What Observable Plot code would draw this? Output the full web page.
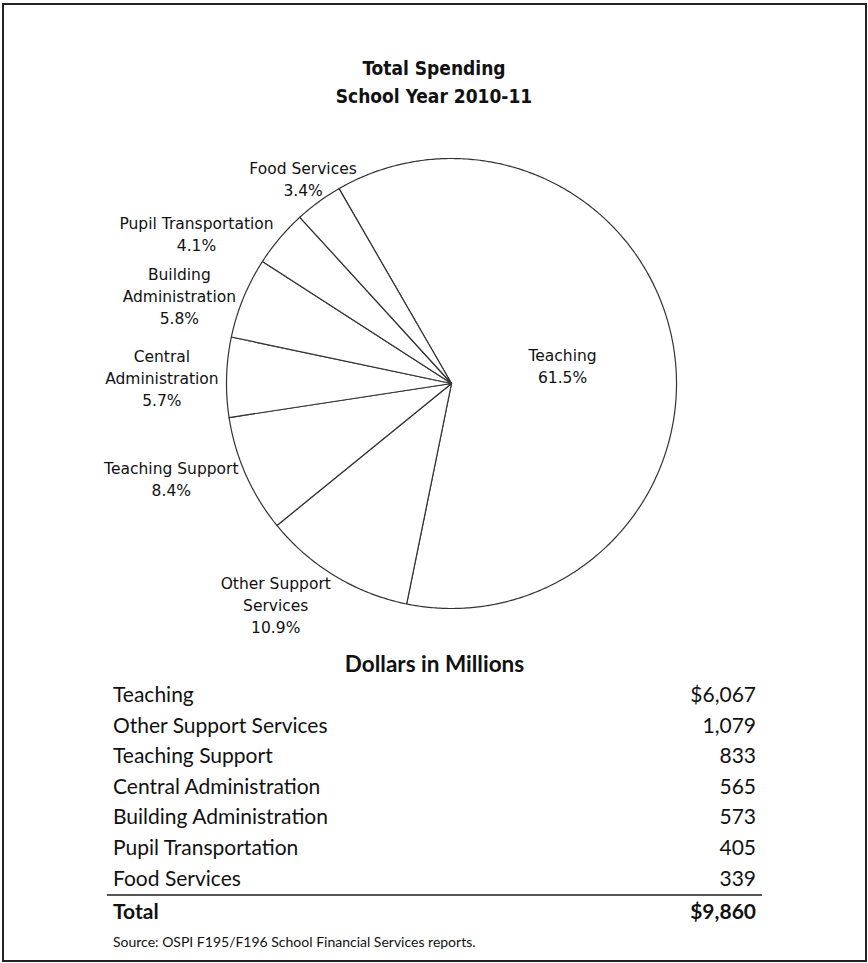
<!DOCTYPE html>
<html>
<head>
<meta charset="utf-8">
<script src="https://cdn.jsdelivr.net/npm/d3@7"></script>
<script src="https://cdn.jsdelivr.net/npm/@observablehq/plot@0.6"></script>
<style>
  html, body { margin: 0; padding: 0; background: #fff; }
  #page { position: relative; width: 868px; height: 963px; background: #fff; overflow: hidden; }
  #frame { position: absolute; left: 2px; top: 3px; width: 865px; height: 959px; border: 2px solid #222; box-sizing: border-box; }
  #title { position: absolute; left: 0; top: 54px; width: 868px; text-align: center;
           font-family: "DejaVu Sans Condensed", "DejaVu Sans", sans-serif; font-stretch: condensed;
           font-weight: bold; font-size: 19px; line-height: 28px; color: #111; }
  #chart { position: absolute; left: 0; top: 120px; z-index: 2; }
  #table { position: absolute; left: 107px; top: 649px; width: 655px; z-index: 1;
           font-family: Lato, "Open Sans", sans-serif; color: #111; }
  #table .head { text-align: center; font-weight: bold; font-size: 22.5px; height: 30px; line-height: 30px; }
  #table .row { display: flex; justify-content: space-between; padding: 0 6px; font-size: 21px; height: 30.6px; line-height: 30.6px; }
  #table .total { font-weight: bold; border-top: 2px solid #555; margin-top: 1px; }
  #table .source { font-size: 14px; padding: 0 6px; margin-top: 5px; line-height: 20px; }
  #chart svg { overflow: visible; }
</style>
</head>
<body>
<div id="page">
  <div id="frame"></div>
  <div id="title"></div>
  <div id="chart"></div>
  <div id="table"></div>
</div>
<script>
// ---- data ----
const categories = ["Teaching", "Other Support Services", "Teaching Support", "Central Administration", "Building Administration", "Pupil Transportation", "Food Services"];
const pieLabels = ["Teaching", "Other Support\nServices", "Teaching Support", "Central\nAdministration", "Building\nAdministration", "Pupil Transportation", "Food Services"];
const dollars = [6067, 1079, 833, 565, 573, 405, 339];
const dollarLabels = ["$6,067", "1,079", "833", "565", "573", "405", "339"];
const totalLabel = "$9,860";
const titleLines = ["Total Spending", "School Year 2010-11"];
const tableTitle = "Dollars in Millions";
const sourceText = "Source:  OSPI F195/F196 School Financial Services reports.";

// ---- title ----
document.getElementById("title").innerHTML = titleLines.join("<br>");

// ---- pie geometry (layout) ----
const W = 868, H = 525, CX = 451, CY = 263, R = 225;
const startAngle = -Math.PI / 6;
const pie = d3.pie().sort(null).value(d => d).startAngle(startAngle).endAngle(startAngle + 2 * Math.PI)(dollars);
const total = d3.sum(dollars);
const pct = d3.format(".1%");

const slicePts = [];
pie.forEach((p, i) => {
  const n = Math.max(4, Math.ceil((p.endAngle - p.startAngle) / 0.01));
  slicePts.push({k: i, x: 0, y: 0});
  for (let j = 0; j <= n; j++) {
    const a = p.startAngle + (p.endAngle - p.startAngle) * j / n;
    slicePts.push({k: i, x: Math.sin(a), y: Math.cos(a)});
  }
  slicePts.push({k: i, x: 0, y: 0});
});

// label placement: outside labels sit just beyond the rim, pushed away from the pie
const labelFamily = "'DejaVu Sans', sans-serif";
const labelSize = 15.5;
const lineH = 22;
const ctx = document.createElement("canvas").getContext("2d");
ctx.font = labelSize + "px " + labelFamily;
const gap = 8;
const clamp = v => Math.max(0, Math.min(1, v));
const labels = pie.map((p, i) => {
  const text = pieLabels[i] + "\n" + pct(dollars[i] / total);
  const lines = text.split("\n");
  const w = d3.max(lines, l => ctx.measureText(l).width);
  const h = lines.length * lineH;
  const a = (p.startAngle + p.endAngle) / 2;
  const s = Math.sin(a), c = Math.cos(a);
  let px, py;
  if (dollars[i] / total > 0.25) {
    px = s * R * 0.5; py = c * R * 0.5;
  } else {
    let fx, fy;
    if (c > 0) { fx = clamp((Math.abs(s) - 0.55) / 0.2); fy = 1 - fx; }
    else { fx = clamp(Math.abs(s) / 0.5); fy = clamp((Math.abs(c) - 0.6) / 0.4); }
    px = s * (R + gap) + Math.sign(s) * fx * w / 2;
    py = c * (R + gap) + Math.sign(c) * fy * h / 2;
  }
  return {text, x: px / R, y: py / R};
});

const chart = Plot.plot({
  width: W, height: H, margin: 0,
  x: {domain: [-CX / R, (W - CX) / R], axis: null},
  y: {domain: [-(H - CY) / R, CY / R], axis: null},
  style: {background: "transparent"},
  marks: [
    Plot.line(slicePts, {x: "x", y: "y", z: "k", fill: "white", stroke: "#333", strokeWidth: 1.2, strokeLinejoin: "round"}),
    Plot.text(labels, {x: "x", y: "y", text: "text", fontSize: labelSize, lineHeight: lineH / labelSize,
      fontFamily: labelFamily, fill: "#111", textAnchor: "middle", lineAnchor: "middle"})
  ]
});
document.getElementById("chart").appendChild(chart);

// ---- table ----
const tbl = d3.select("#table");
tbl.append("div").attr("class", "head").text(tableTitle);
categories.forEach((c, i) => {
  const r = tbl.append("div").attr("class", "row");
  r.append("span").text(c);
  r.append("span").text(dollarLabels[i]);
});
const t = tbl.append("div").attr("class", "row total");
t.append("span").text("Total");
t.append("span").text(totalLabel);
tbl.append("div").attr("class", "source").text(sourceText);
</script>
</body>
</html>
